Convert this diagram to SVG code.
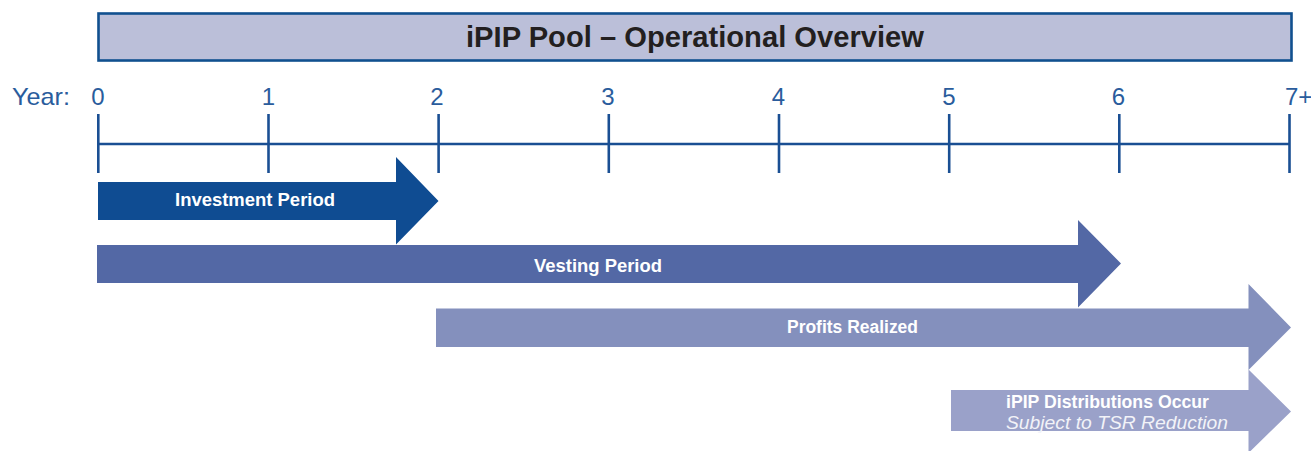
<svg xmlns="http://www.w3.org/2000/svg" width="1311" height="451" viewBox="0 0 1311 451">
<style>
.yr{font-family:"Liberation Sans",Arial,sans-serif;font-size:24px;fill:#2A5C9C;text-anchor:middle}
.lbl{font-family:"Liberation Sans",Arial,sans-serif;font-size:17.5px;font-weight:bold;fill:#FFFFFF}
.tick{stroke:#1A4F93;stroke-width:2.6;fill:none}
</style>
<rect width="1311" height="451" fill="#FFFFFF"/>
<g id="title">
<rect x="98.5" y="13.5" width="1193" height="47" fill="#BBBFD9" stroke="#11508F" stroke-width="2.6"/>
<text x="695" y="47.3" font-family="'Liberation Sans',Arial,sans-serif" font-size="29" font-weight="bold" fill="#231F20" text-anchor="middle" textLength="458" lengthAdjust="spacingAndGlyphs">iPIP Pool – Operational Overview</text>
</g>
<g id="timeline">
<text x="12" y="105" font-family="'Liberation Sans',Arial,sans-serif" font-size="24" fill="#2A5C9C" textLength="58" lengthAdjust="spacingAndGlyphs">Year:</text>
<text class="yr" x="98" y="105">0</text>
<text class="yr" x="268.5" y="105">1</text>
<text class="yr" x="437" y="105">2</text>
<text class="yr" x="608" y="105">3</text>
<text class="yr" x="778.5" y="105">4</text>
<text class="yr" x="949" y="105">5</text>
<text class="yr" x="1118.5" y="105">6</text>
<text x="1285" y="105" font-family="'Liberation Sans',Arial,sans-serif" font-size="24" fill="#2A5C9C">7+</text>
<line class="tick" x1="98.3" y1="144" x2="1289.5" y2="144"/>
<line class="tick" x1="98.3" y1="114" x2="98.3" y2="173"/>
<line class="tick" x1="268.5" y1="114" x2="268.5" y2="173"/>
<line class="tick" x1="438.6" y1="114" x2="438.6" y2="173"/>
<line class="tick" x1="608.8" y1="114" x2="608.8" y2="173"/>
<line class="tick" x1="779" y1="114" x2="779" y2="173"/>
<line class="tick" x1="949.2" y1="114" x2="949.2" y2="173"/>
<line class="tick" x1="1119.3" y1="114" x2="1119.3" y2="173"/>
<line class="tick" x1="1289.5" y1="114" x2="1289.5" y2="173"/>
</g>
<g id="investment">
<polygon points="98,182 396,182 396,157 438.5,201 396,244.5 396,220 98,220" fill="#0F4C92"/>
<text class="lbl" x="175" y="206" textLength="160" lengthAdjust="spacingAndGlyphs">Investment Period</text>
</g>
<g id="vesting">
<polygon points="97,245 1078,245 1078,220 1121,263.5 1078,307.5 1078,283 97,283" fill="#5368A5"/>
<text class="lbl" x="534" y="271.5" textLength="128" lengthAdjust="spacingAndGlyphs">Vesting Period</text>
</g>
<g id="profits">
<polygon points="436,308.5 1248.5,308.5 1248.5,284 1291,327.5 1248.5,370 1248.5,347 436,347" fill="#8490BD"/>
<text class="lbl" x="787" y="333" textLength="131" lengthAdjust="spacingAndGlyphs">Profits Realized</text>
</g>
<g id="distributions">
<polygon points="951,390 1248.5,390 1248.5,369.5 1291,411.5 1248.5,453 1248.5,431 951,431" fill="#9AA1C9"/>
<text class="lbl" x="1006" y="408.3" textLength="203" lengthAdjust="spacingAndGlyphs">iPIP Distributions Occur</text>
<text x="1006" y="428.5" font-family="'Liberation Sans',Arial,sans-serif" font-size="17.5" font-style="italic" fill="#F2F3F8" textLength="222" lengthAdjust="spacingAndGlyphs">Subject to TSR Reduction</text>
</g>
</svg>
